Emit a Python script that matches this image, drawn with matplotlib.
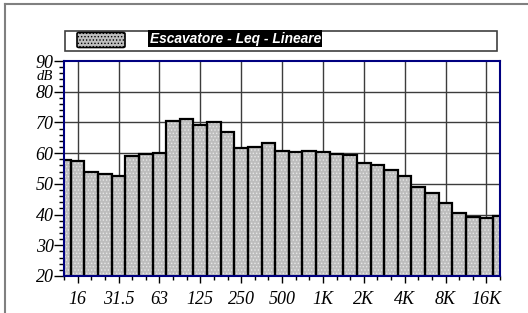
import matplotlib.pyplot as plt
import matplotlib.patches as mpatches
from matplotlib.lines import Line2D
from matplotlib.ticker import FixedLocator, MultipleLocator

# Third-octave bands, 12.5 Hz .. 20 kHz
bands = ["12.5", "16", "20", "25", "31.5", "40", "50", "63", "80", "100",
         "125", "160", "200", "250", "315", "400", "500", "630", "800", "1K",
         "1.25K", "1.6K", "2K", "2.5K", "3.15K", "4K", "5K", "6.3K", "8K", "10K",
         "12.5K", "16K", "20K"]
leq = [57.7, 57.4, 53.8, 53.1, 52.5, 59.1, 59.8, 60.2, 70.5, 71.0,
       69.2, 70.2, 66.8, 61.6, 62.1, 63.2, 60.7, 60.3, 60.7, 60.3,
       59.7, 59.5, 56.8, 56.0, 54.5, 52.5, 49.1, 47.1, 43.7, 40.6,
       39.2, 38.9, 39.5]
octave_labels = ["16", "31.5", "63", "125", "250", "500", "1K", "2K", "4K", "8K", "16K"]
title = "Escavatore - Leq - Lineare"

plt.rcParams['font.family'] = 'Liberation Serif'
plt.rcParams['font.style'] = 'italic'
plt.rcParams['font.size'] = 13
plt.rcParams['hatch.linewidth'] = 0.6

W, H = 528, 313
fig = plt.figure(figsize=(W / 100, H / 100), dpi=100)

def fx(px):
    return px / W

def fy(py):
    return 1 - py / H

ax = fig.add_axes([fx(64), fy(276), fx(500) - fx(64), fy(61) - fy(276)])

x = list(range(len(bands)))
octave_pos = [bands.index(l) for l in octave_labels]

# grid under the bars
for p in octave_pos:
    ax.axvline(p, color="#3c3c3c", lw=1, zorder=1)
for v in range(30, 90, 10):
    ax.axhline(v, color="#3c3c3c", lw=1, zorder=1)

# stippled fill, then black outline
ax.bar(x, leq, width=1.0, color="#bdbdbd", edgecolor="#e8e8e8", hatch=".....",
       linewidth=0, zorder=2)
ax.bar(x, leq, width=1.0, fill=False, edgecolor="black", linewidth=1.6, zorder=3)

ax.set_xlim(0, len(bands) - 1)
ax.set_ylim(20, 90)

for s in ax.spines.values():
    s.set_color("#000080")
    s.set_linewidth(1.5)
    s.set_zorder(4)

ax.xaxis.set_major_locator(FixedLocator(octave_pos))
ax.xaxis.set_minor_locator(FixedLocator(x))
ax.set_xticklabels(octave_labels, fontstyle="italic", fontfamily="Liberation Serif")
ax.yaxis.set_major_locator(MultipleLocator(10))
ax.yaxis.set_minor_locator(MultipleLocator(2))
for lab in ax.get_yticklabels():
    lab.set_fontstyle("italic")

ax.tick_params(axis="x", which="major", length=5.3, width=1, color="black", pad=5.5)
ax.tick_params(axis="x", which="minor", length=3, width=1, color="black")
ax.tick_params(axis="y", which="major", length=7.5, width=1, color="black", pad=0)
ax.tick_params(axis="y", which="minor", length=3.6, width=1, color="black")

ax.annotate("dB", xy=(0, 85.0), xycoords=("axes fraction", "data"),
            xytext=(-7.8, 0), textcoords="offset points", ha="right", va="center",
            fontstyle="italic", fontsize=10.5)

# legend strip
fig.add_artist(mpatches.Rectangle((fx(65), fy(51)), fx(497) - fx(65), fy(31) - fy(51),
                                  transform=fig.transFigure, fill=False,
                                  edgecolor="#404040", linewidth=1.2))
fig.add_artist(mpatches.FancyBboxPatch((fx(77), fy(47.5)), fx(125) - fx(77), fy(32.5) - fy(47.5),
                                       boxstyle="round,pad=0,rounding_size=0.004",
                                       transform=fig.transFigure, facecolor="#bdbdbd",
                                       edgecolor="black", linewidth=1.2, hatch="....."))
fig.text(fx(149.5), fy(38.5), title, color="white", fontfamily="Liberation Sans",
         fontweight="bold", fontstyle="italic", fontsize=9.9, ha="left", va="center",
         bbox=dict(facecolor="black", edgecolor="none", pad=1.0))

# outer frame (left and top edges only are in view)
fig.add_artist(Line2D([fx(5), fx(5)], [0, fy(4)], transform=fig.transFigure,
                      color="#808080", lw=1.5))
fig.add_artist(Line2D([fx(5), 1], [fy(4), fy(4)], transform=fig.transFigure,
                      color="#808080", lw=1.5))

fig.savefig("out.png", dpi=100)
